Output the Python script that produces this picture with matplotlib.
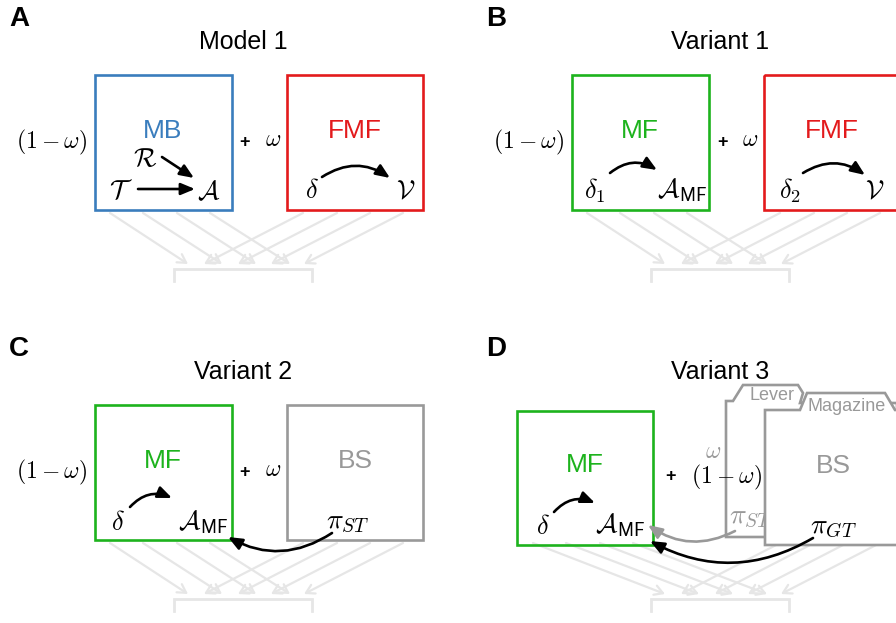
import matplotlib
matplotlib.use('Agg')
import matplotlib.pyplot as plt
from matplotlib.patches import Rectangle, Polygon, FancyArrowPatch

plt.rcParams['font.family'] = ['Liberation Sans', 'DejaVu Sans']
plt.rcParams['mathtext.fontset'] = 'cm'

# panel content
panel_letters = ['A', 'B', 'C', 'D']
panel_titles = ['Model 1', 'Variant 1', 'Variant 2', 'Variant 3']
left_names = ['MB', 'MF', 'MF', 'MF']
right_names = ['FMF', 'FMF', 'BS', 'BS']
left_colors = ['#3a7dbd', '#1db31d', '#1db31d', '#1db31d']
right_colors = ['#e31a1c', '#e31a1c', '#999999', '#999999']
left_weights = [r'$(1-\omega)$', r'$(1-\omega)$', r'$(1-\omega)$', None]
right_weights = [r'$\omega$', r'$\omega$', r'$\omega$', None]
tab_labels = ['Lever', 'Magazine']

FAN = '#e6e6e6'
A_MF = r'$\mathcal{A}_{\mathsf{MF}}$'
MS = 19  # size of symbols inside boxes

fig = plt.figure(figsize=(8.96, 6.23), dpi=100)
ax = fig.add_axes([0, 0, 1, 1])
ax.set_xlim(0, 896)
ax.set_ylim(623, 0)
ax.axis('off')


def arrow(p0, p1, ox, oy, rad=0.0, color='k', lw=1.9, z=5):
    ax.add_patch(FancyArrowPatch((p0[0] + ox, p0[1] + oy), (p1[0] + ox, p1[1] + oy),
                                 connectionstyle=f'arc3,rad={rad}',
                                 arrowstyle='-|>,head_length=1.2,head_width=0.5',
                                 mutation_scale=7, color=color, lw=lw, zorder=z,
                                 shrinkA=0, shrinkB=0))


def txt(x, y, s, ox, oy, size=17, color='k', z=5, va='center', **kw):
    ax.text(x + ox, y + oy, s, fontsize=size, color=color, ha='center', va=va,
            zorder=z, **kw)


def fan(ox, oy, left_shift=0):
    starts_l = [110, 143, 177, 210]
    ends_l = [188, 222, 256, 290]
    starts_r = [303, 337, 370, 403]
    ends_r = [204, 238, 271, 304]
    for s, e in zip(starts_l, ends_l):
        ax.add_patch(FancyArrowPatch((s + left_shift + ox, 213 + oy), (e + ox, 264 + oy),
                                     arrowstyle='->,head_length=0.6,head_width=0.35',
                                     mutation_scale=10, color=FAN, lw=1.6, zorder=1,
                                     shrinkA=0, shrinkB=0))
    for s, e in zip(starts_r, ends_r):
        ax.add_patch(FancyArrowPatch((s + ox, 213 + oy), (e + ox, 264 + oy),
                                     arrowstyle='->,head_length=0.6,head_width=0.35',
                                     mutation_scale=10, color=FAN, lw=1.6, zorder=1,
                                     shrinkA=0, shrinkB=0))
    ax.plot([174 + ox, 174 + ox, 312 + ox, 312 + ox], [281 + oy, 269 + oy, 269 + oy, 281 + oy],
            color=FAN, lw=2, zorder=1, solid_joinstyle='miter')


offsets = [(0, 0), (477, 0), (0, 330), (477, 330)]

for i, (ox, oy) in enumerate(offsets):
    ax.text(9 + ox, 19 + oy, panel_letters[i], fontsize=20, fontweight='bold',
            ha='left', va='center')
    txt(243, 42, panel_titles[i], ox, oy, size=18)

    if i < 3:
        ax.add_patch(Rectangle((95 + ox, 75 + oy), 137, 135, fill=False,
                               ec=left_colors[i], lw=1.9, zorder=2))
        ax.add_patch(Rectangle((287 + ox, 75 + oy), 136, 135, fill=False,
                               ec=right_colors[i], lw=1.9, zorder=2))
        txt(163, 131, left_names[i], ox, oy, size=19, color=left_colors[i])
        txt(355, 131, right_names[i], ox, oy, size=19, color=right_colors[i])
        txt(52, 142, left_weights[i], ox, oy)
        txt(245, 142, '+', ox, oy, size=13, fontweight='bold')
        txt(273, 140, right_weights[i], ox, oy)
        fan(ox, oy)

# A: model-based + forgetful model-free
ox, oy = offsets[0]
txt(145, 159, r'$\mathcal{R}$', ox, oy, size=MS)
txt(121, 191, r'$\mathcal{T}$', ox, oy, size=MS)
txt(209, 192, r'$\mathcal{A}$', ox, oy, size=MS)
arrow((138, 189), (195, 189), ox, oy)
arrow((162, 157), (194, 178), ox, oy)
txt(312, 191, r'$\delta$', ox, oy, size=MS)
txt(406, 191, r'$\mathcal{V}$', ox, oy, size=MS)
arrow((322, 177), (390, 178), ox, oy, rad=-0.33)

# B: MF + FMF
ox, oy = offsets[1]
txt(118, 191, r'$\delta_1$', ox, oy, size=MS)
txt(205, 190, A_MF, ox, oy, size=MS)
arrow((133, 173), (180, 170), ox, oy, rad=-0.35)
txt(313, 191, r'$\delta_2$', ox, oy, size=MS)
txt(398, 191, r'$\mathcal{V}$', ox, oy, size=MS)
arrow((326, 173), (388, 175), ox, oy, rad=-0.33)

# C: MF + BS
ox, oy = offsets[2]
txt(118, 193, r'$\delta$', ox, oy, size=MS)
txt(203, 192, A_MF, ox, oy, size=MS)
arrow((130, 177), (172, 168), ox, oy, rad=-0.35)
txt(348, 192, r'$\pi_{ST}$', ox, oy, size=20)
arrow((332, 203), (228, 207), ox, oy, rad=-0.3)

# D: MF + two BS modules (lever / magazine)
ox, oy = offsets[3]
ax.add_patch(Rectangle((40 + ox, 81 + oy), 136, 134, fill=False,
                       ec=left_colors[3], lw=1.9, zorder=2))
txt(108, 135, left_names[3], ox, oy, size=19, color=left_colors[3])
txt(66, 197, r'$\delta$', ox, oy, size=MS)
txt(143, 195, A_MF, ox, oy, size=MS)
arrow((77, 182), (118, 173), ox, oy, rad=-0.35)
txt(193, 147, '+', ox, oy, size=13, fontweight='bold')
fan(ox, oy, left_shift=-54)

lever = [(249, 207), (249, 71), (256, 71), (266, 55), (321, 55), (326, 63),
         (323, 73), (420, 73), (420, 207)]
ax.add_patch(Polygon([(x + ox, y + oy) for x, y in lever], closed=True, fc='white',
                     ec='#999999', lw=1.9, zorder=3))
txt(295, 70, tab_labels[0], ox, oy, size=13, color='#999999', z=4, va='baseline')
txt(236, 122, r'$\omega$', ox, oy, color='#999999', z=4)
txt(250, 147, r'$(1-\omega)$', ox, oy, z=4)
txt(274, 187, r'$\pi_{ST}$', ox, oy, size=20, color='#999999', z=4)
arrow((258, 201), (171, 195), ox, oy, rad=-0.3, color='#999999', z=4)

magazine = [(288, 215), (288, 80), (323, 80), (330, 63), (408, 63), (418, 80),
            (450, 80), (450, 215)]
ax.add_patch(Polygon([(x + ox, y + oy) for x, y in magazine], closed=True, fc='white',
                     ec='#999999', lw=1.9, zorder=6))
txt(370, 81, tab_labels[1], ox, oy, size=13, color='#999999', z=7, va='baseline')
txt(356, 136, right_names[3], ox, oy, size=19, color='#999999', z=7)
txt(356, 197, r'$\pi_{GT}$', ox, oy, size=20, z=7)
arrow((336, 208), (173, 211), ox, oy, rad=-0.28, z=7)

fig.savefig('out.png', dpi=100)
